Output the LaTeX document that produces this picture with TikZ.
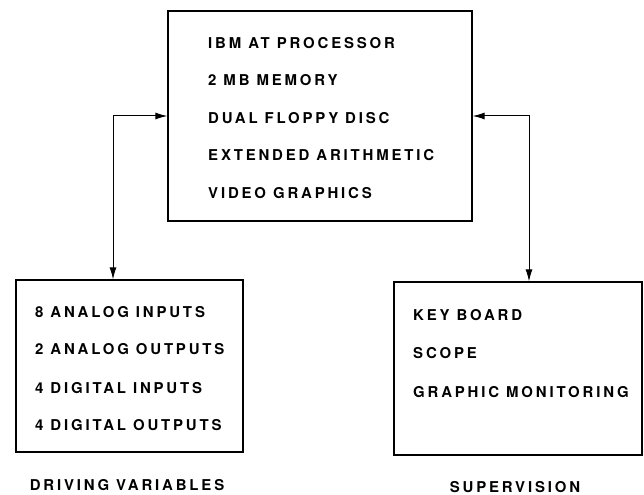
\documentclass[tikz,border=0pt]{standalone}
\usepackage{fontspec}
\setmainfont{TeX Gyre Heros}[LetterSpace=19]
\usetikzlibrary{arrows.meta}
\begin{document}
\begin{tikzpicture}[>={Latex[length=12bp,width=7bp]}, x=1bp, y=-1bp, font=\fontsize{15}{17}\bfseries]
\tikzset{box/.style={draw, line width=1.3pt, inner sep=0pt},
         txt/.style={anchor=west, inner sep=0pt}}
\useasboundingbox (0,0) rectangle (644,495);

\node[box, minimum width=304bp, minimum height=210bp] (cpu) at (320,116) {};
\node[box, minimum width=227bp, minimum height=172bp] (io) at (129.5,366) {};
\node[box, minimum width=248bp, minimum height=173bp] (sup) at (518,368.5) {};

\foreach \t [count=\i from 0] in {IBM AT PROCESSOR, 2 MB MEMORY, DUAL FLOPPY DISC, EXTENDED ARITHMETIC, VIDEO GRAPHICS}
{
   \node[txt] (cpu\i) at (208, 43+37.5*\i) {\t};
}
\foreach \t/\y [count=\i] in {8 ANALOG INPUTS/312, 2 ANALOG OUTPUTS/349, 4 DIGITAL INPUTS/388, 4 DIGITAL OUTPUTS/425}
{
   \node[txt] (io\i) at (35,\y) {\t};
}
\foreach \t/\y [count=\i] in {KEY BOARD/315, SCOPE/353, GRAPHIC MONITORING/392}
{
   \node[txt] (sup\i) at (413,\y) {\t};
}

\node (iolabel) at (127,485) {DRIVING VARIABLES};
\node (suplabel) at (515,487) {SUPERVISION};

\draw[<->, line width=1pt] (cpu.west) -| ([xshift=-16.5bp]io.north);
\draw[<->, line width=1pt] (cpu.east) -| ([xshift=11bp]sup.north);
\end{tikzpicture}
\end{document}
